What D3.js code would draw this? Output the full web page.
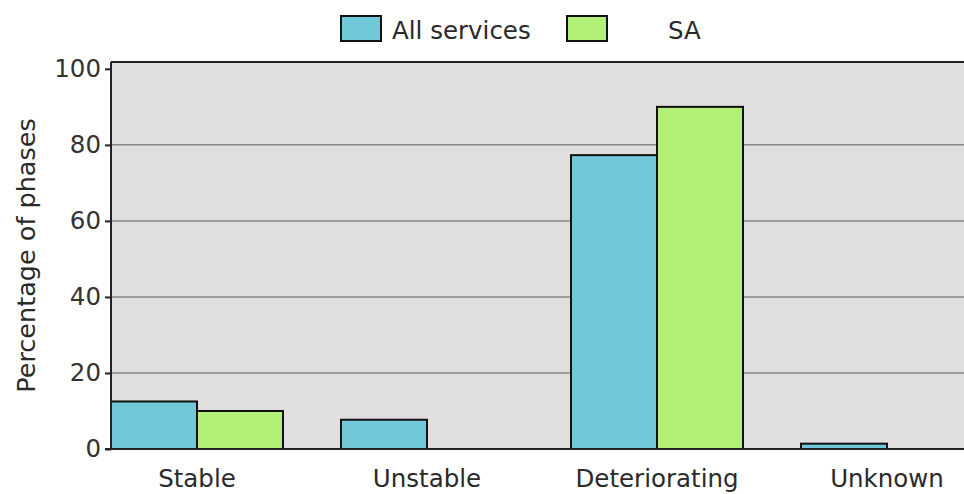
<!DOCTYPE html>
<html>
<head>
<meta charset="utf-8">
<script src="https://cdn.jsdelivr.net/npm/d3@7"></script>
<style>
  html, body { margin: 0; padding: 0; background: #fff; }
  svg { display: block; font-family: "DejaVu Sans", sans-serif; }
</style>
</head>
<body>
<svg id="chart" width="964" height="494"></svg>
<script>
// Share of phases by trend category
const categories = ["Stable", "Unstable", "Deteriorating", "Unknown"];
const seriesNames = ["All services", "SA"];
const allServices = [12.5, 7.7, 77.3, 1.4];
const sa = [10, 0, 90, 0];
const yTicks = [0, 20, 40, 60, 80, 100];
const colors = ["#70c8d8", "#b2f077"];

const seriesValues = [allServices, sa];

const W = 964, H = 494;
const plot = { left: 111, top: 62, right: 964, bottom: 449 };

const svg = d3.select("#chart");

const y = d3.scaleLinear().domain([0, 101.8]).range([plot.bottom, plot.top]);

// Groups are laid out on a wider band than the visible area; the last one is clipped.
const x0 = d3.scaleBand().domain(categories)
  .range([plot.left, 973]).paddingInner(0.2522).paddingOuter(0);
const x1 = d3.scaleBand().domain(seriesNames).range([0, x0.bandwidth()]).padding(0);

svg.append("defs").append("clipPath").attr("id", "plotClip")
  .append("rect")
  .attr("x", plot.left).attr("y", plot.top - 2)
  .attr("width", plot.right - plot.left).attr("height", plot.bottom - plot.top + 4);

// Plot background
svg.append("rect")
  .attr("x", plot.left).attr("y", plot.top)
  .attr("width", plot.right - plot.left).attr("height", plot.bottom - plot.top)
  .attr("fill", "#e0dedf");

// Horizontal grid lines
svg.append("g").selectAll("line")
  .data(yTicks.filter(t => t > 0 && t < 100))
  .join("line")
  .attr("x1", plot.left).attr("x2", plot.right)
  .attr("y1", d => y(d)).attr("y2", d => y(d))
  .attr("stroke", "#8a8a8a").attr("stroke-width", 1.5);

// Bars
const bars = svg.append("g").attr("clip-path", "url(#plotClip)");
categories.forEach((cat, i) => {
  seriesNames.forEach((s, j) => {
    const v = seriesValues[j][i];
    if (v <= 0) return;
    bars.append("rect")
      .attr("x", x0(cat) + x1(s))
      .attr("y", y(v))
      .attr("width", x1.bandwidth())
      .attr("height", y(0) - y(v))
      .attr("fill", colors[j])
      .attr("stroke", "#111")
      .attr("stroke-width", 2);
  });
});

// Frame: top edge
svg.append("line")
  .attr("x1", plot.left).attr("x2", plot.right)
  .attr("y1", plot.top).attr("y2", plot.top)
  .attr("stroke", "#222").attr("stroke-width", 2);

// Y axis
const yAxis = d3.axisLeft(y).tickValues(yTicks).tickSize(6).tickPadding(4);
const gy = svg.append("g").attr("transform", `translate(${plot.left},0)`).call(yAxis);
gy.select(".domain").attr("stroke", "#222").attr("stroke-width", 2)
  .attr("d", `M0,${plot.top}V${plot.bottom}`);
gy.selectAll(".tick line").attr("stroke", "#222").attr("stroke-width", 2);
gy.selectAll(".tick text")
  .attr("font-family", "DejaVu Sans, sans-serif")
  .attr("font-size", 24.5).attr("fill", "#333");

// X axis
const xAxis = d3.axisBottom(x0).tickSize(0).tickPadding(21);
const gx = svg.append("g").attr("transform", `translate(0,${plot.bottom})`).call(xAxis);
gx.select(".domain").attr("stroke", "#222").attr("stroke-width", 2)
  .attr("d", `M${plot.left - 6},0H${plot.right}`);
gx.selectAll(".tick text")
  .attr("font-family", "DejaVu Sans, sans-serif")
  .attr("font-size", 24.5).attr("fill", "#2a2a2a");

// Y axis title
svg.append("text")
  .attr("transform", `translate(35,${(plot.top + plot.bottom) / 2}) rotate(-90)`)
  .attr("text-anchor", "middle")
  .attr("font-size", 25.5).attr("fill", "#2a2a2a")
  .text("Percentage of phases");

// Legend
const legendX = [341, 567];
const legendTextX = [392, 668];
const legend = svg.append("g");
seriesNames.forEach((s, j) => {
  legend.append("rect")
    .attr("x", legendX[j]).attr("y", 16)
    .attr("width", 40).attr("height", 25)
    .attr("fill", colors[j]).attr("stroke", "#111").attr("stroke-width", 2);
  legend.append("text")
    .attr("x", legendTextX[j]).attr("y", 39)
    .attr("font-size", 24.5).attr("fill", "#2a2a2a")
    .text(s);
});
</script>
</body>
</html>
